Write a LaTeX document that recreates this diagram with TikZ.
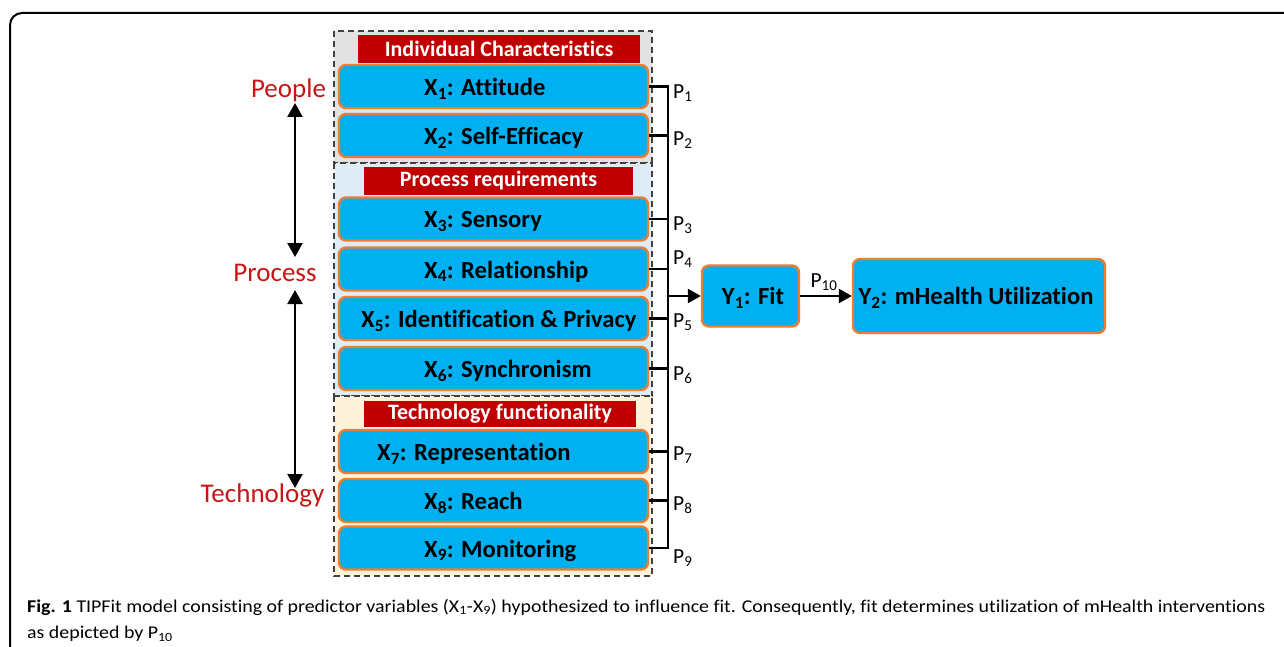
\documentclass[tikz,border=0pt]{standalone}
\usepackage{fontspec}
\usepackage{graphicx}
\setmainfont[Ligatures={NoCommon}]{Carlito}
\usetikzlibrary{arrows.meta,calc}

\definecolor{boxblue}{HTML}{00B0F0}
\definecolor{boxorange}{HTML}{ED7D31}
\definecolor{barred}{HTML}{C00000}
\definecolor{lblred}{HTML}{C81414}
\definecolor{grpgray}{HTML}{E2E2E2}
\definecolor{grpblue}{HTML}{DFEBF7}
\definecolor{grpyellow}{HTML}{FEF3DA}
\definecolor{dashgray}{HTML}{404040}

\tikzset{
  varbox/.style={draw=boxorange, fill=boxblue, line width=2.4pt, rounded corners=7pt,
    inner sep=0pt},
  vartext/.style={anchor=west, inner sep=0pt, font=\fontsize{24.6}{28}\selectfont\bfseries},
  titlebar/.style={fill=barred, inner sep=0pt, text=white,
    font=\fontsize{22}{24}\selectfont\bfseries},
  group/.style={draw=dashgray, line width=1.1pt, dash pattern=on 6pt off 4pt},
  conn/.style={line width=2.4pt, black},
  arr/.style={line width=2.4pt, black, -{Triangle[length=13pt,width=14pt]}},
  dblarr/.style={line width=2.4pt, black, {Triangle[length=14pt,width=15pt]}-{Triangle[length=14pt,width=15pt]}},
  plabel/.style={anchor=west, inner sep=0pt, font=\fontsize{21.5}{24}\selectfont},
  dimlabel/.style={inner sep=0pt, text=lblred, font=\fontsize{27}{30}\selectfont},
}

\begin{document}
\begin{tikzpicture}[x=1pt, y=-1pt]
\useasboundingbox (0,0) rectangle (1284,647);

% outer frame
\draw[line width=2pt, rounded corners=12pt] (1300,13) -- (10,13) -- (10,660);

% group backgrounds
\draw[group, fill=grpgray]   (334,31)  rectangle (652,163);
\draw[group, fill=grpblue]   (334,163) rectangle (652,396);
\draw[group, fill=grpyellow] (334,396) rectangle (652,576);

% group titles
\node[titlebar, minimum width=282pt, minimum height=28pt] (t1) at (499,49)  {Individual Characteristics};
\node[titlebar, minimum width=269pt, minimum height=28pt] (t2) at (498.5,181) {Process requirements};
\node[titlebar, minimum width=272pt, minimum height=26pt] (t3) at (500,414) {Technology functionality};

% predictor boxes
\foreach \n/\y in {1/86.5, 2/135.5, 3/219, 4/269, 5/318.5, 6/368.5, 7/451.5, 8/500.5, 9/548}
  \node[varbox, minimum width=309pt, minimum height=43pt] (x\n) at (493.5,\y) {};

\node[vartext] (lx1) at (424,89)  {X\textsubscript{1}: Attitude};
\node[vartext] (lx2) at (424,138) {X\textsubscript{2}: Self-Efficacy};
\node[vartext] (lx3) at (424,221.5) {X\textsubscript{3}: Sensory};
\node[vartext] (lx4) at (424,271.5) {X\textsubscript{4}: Relationship};
\node[vartext] (lx5) at (361,321) {X\textsubscript{5}: Identification \& Privacy};
\node[vartext] (lx6) at (424,371) {X\textsubscript{6}: Synchronism};
\node[vartext] (lx7) at (377,454) {X\textsubscript{7}: Representation};
\node[vartext] (lx8) at (424,503) {X\textsubscript{8}: Reach};
\node[vartext] (lx9) at (424,550.5) {X\textsubscript{9}: Monitoring};

% outcome boxes
\node[varbox, minimum width=97pt, minimum height=61pt] (y1) at (750.5,296) {};
\node[vartext, anchor=center] (ly1) at (753,298) {Y\textsubscript{1}: Fit};
\node[varbox, minimum width=252pt, minimum height=74pt] (y2) at (979,296) {};
\node[vartext, anchor=center] (ly2) at (976,298) {Y\textsubscript{2}: mHealth Utilization};

% collecting bus
\coordinate (bus) at (668,0);
\foreach \n in {1,...,9}
  \draw[conn] (x\n.east) -- (x\n.east -| bus);
\draw[conn, line cap=rect] (x1.east -| bus) -- (x9.east -| bus);
\draw[arr] (y1.west -| bus) -- (y1.west);
\draw[arr] (y1.east) -- (y2.west);

% path labels
\node[plabel] (p1) at (673,93)  {P\textsubscript{1}};
\node[plabel] (p2) at (673,140) {P\textsubscript{2}};
\node[plabel] (p3) at (673,225) {P\textsubscript{3}};
\node[plabel] (p4) at (673,259) {P\textsubscript{4}};
\node[plabel] (p5) at (673,322) {P\textsubscript{5}};
\node[plabel] (p6) at (673,375) {P\textsubscript{6}};
\node[plabel] (p7) at (673,455) {P\textsubscript{7}};
\node[plabel] (p8) at (673,505) {P\textsubscript{8}};
\node[plabel] (p9) at (673,558) {P\textsubscript{9}};
\node[plabel, anchor=center] (p10) at (824,282) {P\textsubscript{10}};

% dimension labels
\node[dimlabel] (people) at (288.5,90)  {People};
\node[dimlabel] (process) at (275,273)  {Process};
\node[dimlabel] (tech) at (262.5,495)    {Technology};
\coordinate (ax) at (295,0);
\draw[dblarr] (ax |- 0,103) -- (ax |- 0,257);
\draw[dblarr] (ax |- 0,290) -- (ax |- 0,488);

% caption
\node[anchor=north west, inner sep=0pt] (cap) at (27,594) {%
  \resizebox{1238pt}{\height}{\fontsize{18}{26}\selectfont
  \begin{tabular}{@{}l@{}}
  \textbf{Fig. 1} TIPFit model consisting of predictor variables (X\textsubscript{1}-X\textsubscript{9}) hypothesized to influence fit. Consequently, fit determines utilization of mHealth interventions\\
  as depicted by P\textsubscript{10}
  \end{tabular}}};
\end{tikzpicture}
\end{document}
